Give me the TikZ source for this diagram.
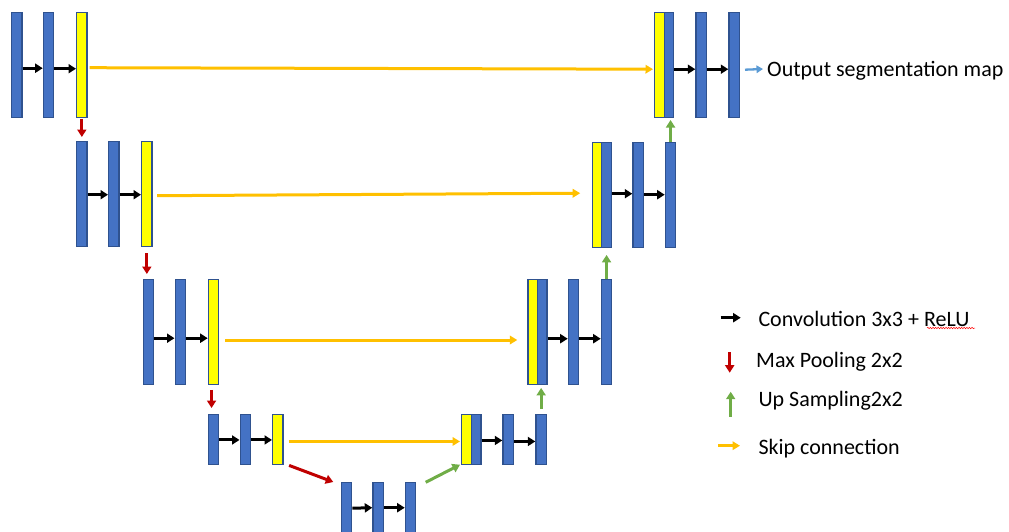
\documentclass[tikz,border=0pt]{standalone}
\usepackage{fontspec}
\setmainfont{Carlito}
\usetikzlibrary{arrows.meta,decorations.pathmorphing}

\definecolor{barblue}{HTML}{4472C4}
\definecolor{barline}{HTML}{2F528F}
\definecolor{baryellow}{HTML}{FFFF00}
\definecolor{skiporange}{HTML}{FFC000}
\definecolor{poolred}{HTML}{C00000}
\definecolor{upgreen}{HTML}{70AD47}
\definecolor{outblue}{HTML}{5B9BD5}

\tikzset{
  bar/.style={draw=barline, line width=1.4pt, fill=barblue, inner sep=0pt,
              minimum width=10.3pt, anchor=north west},
  ybar/.style={bar, fill=baryellow},
  half/.style={minimum width=9.5pt},
  tall/.style={minimum height=105pt},
  short/.style={minimum height=49.5pt},
  conv/.style={line width=3pt, -{Triangle[length=7.5pt,width=9pt]}},
  skipc/.style={skiporange, line width=3pt, -{Triangle[length=7.5pt,width=8.5pt]}},
  pool/.style={poolred, line width=3pt, -{Triangle[length=7.5pt,width=9pt]}},
  upc/.style={upgreen, line width=3pt, -{Triangle[length=7.5pt,width=9pt]}},
  outc/.style={outblue, line width=2.3pt, -{Triangle[length=6.5pt,width=7.5pt]}},
  lbl/.style={inner sep=0pt, anchor=base west, font=\fontsize{22}{25}\selectfont},
}

\begin{document}
\begin{tikzpicture}[x=1pt, y=-1pt]
\useasboundingbox (0,0) rectangle (1009,531);

% ---- contracting path ----
\node[bar,tall]  (e1a) at (11,12) {};
\node[bar,tall]  (e1b) at (42.7,12) {};
\node[ybar,tall] (e1c) at (76,12) {};

\node[bar,tall]  (e2a) at (76,141) {};
\node[bar,tall]  (e2b) at (108,141) {};
\node[ybar,tall] (e2c) at (141,141) {};

\node[bar,tall]  (e3a) at (142.7,279) {};
\node[bar,tall]  (e3b) at (174.5,279) {};
\node[ybar,tall] (e3c) at (207.7,279) {};

\node[bar,short]  (e4a) at (207.5,414) {};
\node[bar,short]  (e4b) at (239.5,414) {};
\node[ybar,short] (e4c) at (272,414) {};

% ---- bottleneck ----
\node[bar,minimum height=52pt] (b1) at (340.7,482) {};
\node[bar,minimum height=52pt] (b2) at (372.3,482) {};
\node[bar,minimum height=52pt] (b3) at (404.7,482) {};

% ---- expanding path ----
\node[ybar,half,short] (d4y) at (461,414) {};
\node[bar,half,short]  (d4b) at (470.8,414) {};
\node[bar,short]       (d4c) at (502.3,414) {};
\node[bar,short]       (d4d) at (535.3,414) {};

\node[ybar,half,tall] (d3y) at (527.3,279) {};
\node[bar,half,tall]  (d3b) at (536.7,279) {};
\node[bar,tall]       (d3c) at (567.7,279) {};
\node[bar,tall]       (d3d) at (600.7,279) {};

\node[ybar,half,tall] (d2y) at (591.7,141.5) {};
\node[bar,half,tall]  (d2b) at (601,141.5) {};
\node[bar,tall]       (d2c) at (632.3,141.5) {};
\node[bar,tall]       (d2d) at (664.7,141.5) {};

\node[ybar,half,tall] (d1y) at (654,12) {};
\node[bar,half,tall]  (d1b) at (663.5,12) {};
\node[bar,tall]       (d1c) at (695.3,12) {};
\node[bar,tall]       (d1d) at (728.3,12) {};

% ---- convolutions ----
\draw[conv] ([yshift=-3pt]e1a.east) -- ([yshift=-3pt]e1b.west);
\draw[conv] ([yshift=-3.5pt]e1b.east) -- ([yshift=-3.5pt]e1c.west);
\draw[conv] ([yshift=-0.5pt]e2a.east) -- ([yshift=-0.5pt]e2b.west);
\draw[conv] ([yshift=-0.5pt]e2b.east) -- ([yshift=-0.5pt]e2c.west);
\draw[conv] ([yshift=-6pt]e3a.east) -- ([yshift=-6pt]e3b.west);
\draw[conv] ([yshift=-6pt]e3b.east) -- ([yshift=-6pt]e3c.west);
\draw[conv] ([yshift=-0.5pt]e4a.east) -- ([yshift=-0.5pt]e4b.west);
\draw[conv] ([yshift=-0.5pt]e4b.east) -- ([yshift=-0.5pt]e4c.west);
\draw[conv] ([yshift=-0.5pt]b1.north east |- 0,507.7) -- (b2.north west |- 0,507.7);
\draw[conv] (b2.north east |- 0,507.7) -- (b3.north west |- 0,507.7);
\draw[conv] ([yshift=-1pt]d4b.east) -- ([yshift=-1pt]d4c.west);
\draw[conv] ([yshift=-2pt]d4c.east) -- ([yshift=-2pt]d4d.west);
\draw[conv] ([yshift=-6.5pt]d3b.east) -- ([yshift=-6.5pt]d3c.west);
\draw[conv] ([yshift=-6.5pt]d3c.east) -- ([yshift=-6.5pt]d3d.west);
\draw[conv] ([yshift=1pt]d2b.east) -- ([yshift=1pt]d2c.west);
\draw[conv] ([yshift=0pt]d2c.east) -- ([yshift=0pt]d2d.west);
\draw[conv] ([yshift=-4pt]d1b.east) -- ([yshift=-4pt]d1c.west);
\draw[conv] ([yshift=-4pt]d1c.east) -- ([yshift=-4pt]d1d.west);

% ---- skip connections ----
\draw[skipc] ([xshift=2pt,yshift=-2.5pt]e1c.east) -- ([xshift=-1pt,yshift=-4pt]d1y.west);
\draw[skipc] ([xshift=4.5pt,yshift=-1.5pt]e2c.east) -- ([xshift=-11.5pt,yshift=1.5pt]d2y.west);
\draw[skipc] ([xshift=6pt,yshift=-7.8pt]e3c.east) -- ([xshift=-10pt,yshift=-7.8pt]d3y.west);
\draw[skipc] ([xshift=5pt,yshift=-2pt]e4c.east) -- ([xshift=-1pt,yshift=-2pt]d4y.west);

% ---- max pooling ----
\draw[pool] ([yshift=-0.5pt]e1c.south) -- ([yshift=4pt]e1c.south |- e2a.north);
\draw[pool] ([yshift=-6pt]e2c.south) -- ([yshift=5pt]e2c.south |- e3a.north);
\draw[pool] ([xshift=-2pt,yshift=-4.5pt]e3c.south) -- ([xshift=-2pt,yshift=6pt]e3c.south |- e4a.north);
\draw[pool] ([xshift=5.4pt,yshift=-0.5pt]e4c.south east) -- ([xshift=-7.4pt,yshift=0pt]b1.north west);

% ---- up sampling ----
\draw[upc] ([xshift=9.3pt,yshift=-0.3pt]b3.north east) -- ([xshift=-1pt,yshift=0.2pt]d4y.south west);
\draw[upc] ([yshift=5pt]d4d.north) -- ([yshift=-2.5pt]d4d.north |- d3b.south);
\draw[upc] (d3d.north) -- ([yshift=-7pt]d3d.north |- d2b.south);
\draw[upc] (d2d.north) -- ([yshift=-1.6pt]d2d.north |- d1b.south);

% ---- output ----
\node[lbl] (out) at (767,76) {Output segmentation map};
\draw[outc] ([xshift=5pt,yshift=-4.5pt]d1d.east) -- ([xshift=-4pt]out.base west |- 0,69);

% ---- legend ----
\node[lbl] (lconv) at (758.3,326) {Convolution 3x3 + ReLU};
\node[lbl] (lpool) at (756,367.3) {Max Pooling 2x2};
\node[lbl] (lup)   at (758.3,406.7) {Up Sampling2x2};
\node[lbl] (lskip) at (758.3,454) {Skip connection};

\coordinate (kc1) at (720.7,317.7);
\coordinate (kc2) at (740.7,317.7);
\draw[conv] (kc1) -- (kc2);
\coordinate (kp1) at (729.7,352);
\coordinate (kp2) at (729.7,372.7);
\draw[pool] (kp1) -- (kp2);
\coordinate (ku1) at (730.7,416.7);
\coordinate (ku2) at (730.7,391.7);
\draw[upc] (ku1) -- (ku2);
\coordinate (ks1) at (718.3,445.7);
\coordinate (ks2) at (740,445.7);
\draw[skipc, line width=2.5pt] (ks1) -- (ks2);

% spelling squiggle under ReLU
\coordinate (sq1) at (927,328);
\coordinate (sq2) at (975,328);
\draw[red, line width=0.5pt, decorate,
      decoration={snake, amplitude=0.7pt, segment length=2.6pt}] (sq1) -- (sq2);
\end{tikzpicture}
\end{document}
